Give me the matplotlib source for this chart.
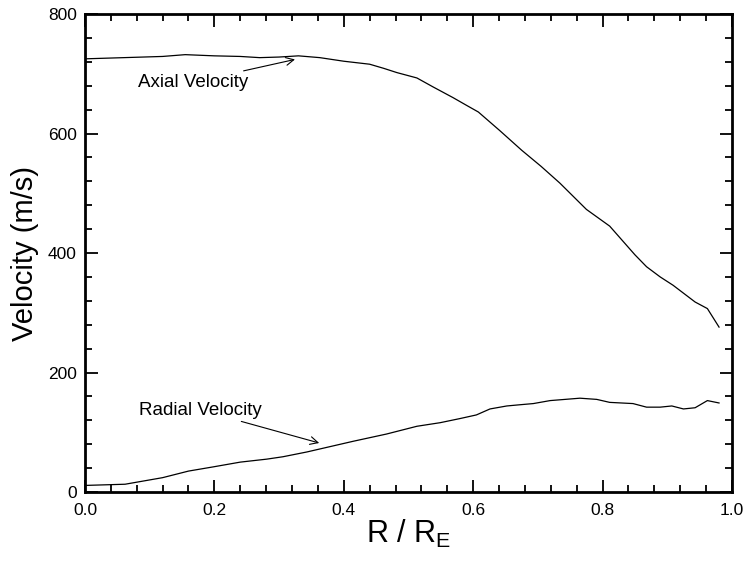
import matplotlib
matplotlib.use('Agg')
import matplotlib.pyplot as plt
from matplotlib.ticker import MultipleLocator

plt.rcParams['font.family'] = ['Liberation Sans', 'DejaVu Sans']

# axial velocity profile
axial_x = [0.0, 0.06, 0.12, 0.155, 0.2, 0.24, 0.27, 0.30, 0.33, 0.363, 0.40, 0.44,
           0.462, 0.482, 0.513, 0.538, 0.569, 0.59, 0.608, 0.641, 0.675, 0.705, 0.734,
           0.775, 0.811, 0.85, 0.868, 0.889, 0.909, 0.943, 0.962, 0.98]
axial_v = [725, 727, 729, 732, 730, 729, 727, 728, 730, 727, 721, 716,
           709, 702, 693, 678, 660, 647, 636, 605, 572, 545, 517,
           473, 445, 397, 377, 360, 346, 318, 307, 276]

# radial velocity profile
radial_x = [0.0, 0.062, 0.12, 0.16, 0.198, 0.24, 0.281, 0.306, 0.343, 0.379, 0.415,
            0.466, 0.513, 0.549, 0.58, 0.605, 0.626, 0.652, 0.672, 0.693, 0.719,
            0.765, 0.791, 0.811, 0.847, 0.868, 0.889, 0.907, 0.925, 0.943, 0.962, 0.98]
radial_v = [11, 13, 24, 35, 42, 50, 55, 59, 67, 76, 85,
            97, 110, 116, 123, 129, 139, 144, 146, 148, 153,
            157, 155, 150, 148, 142, 142, 144, 139, 141, 153, 149]

fig = plt.figure(figsize=(7.46, 5.61), dpi=100)
ax = fig.add_axes([0.1139, 0.123, 0.8673, 0.852])

ax.plot(axial_x, axial_v, color='black', lw=0.9)
ax.plot(radial_x, radial_v, color='black', lw=0.9)

ax.set_xlim(0, 1)
ax.set_ylim(0, 800)
ax.xaxis.set_major_locator(MultipleLocator(0.2))
ax.xaxis.set_minor_locator(MultipleLocator(0.04))
ax.yaxis.set_major_locator(MultipleLocator(200))
ax.yaxis.set_minor_locator(MultipleLocator(40))
ax.xaxis.set_major_formatter(plt.FuncFormatter(lambda v, p: '%.1f' % v))

ax.tick_params(which='both', direction='in', top=True, right=True, width=1.3)
ax.tick_params(which='major', length=9, labelsize=12.5)
ax.tick_params(axis='x', which='major', pad=8)
ax.tick_params(axis='y', which='major', pad=6)
ax.tick_params(which='minor', length=5)
for s in ax.spines.values():
    s.set_linewidth(2)

ax.set_xlabel('R / R$_{\\mathregular{E}}$', fontsize=22, labelpad=0)
ax.set_ylabel('Velocity (m/s)', fontsize=21, labelpad=6)

arrow = dict(arrowstyle='->', color='black', lw=0.8,
             shrinkA=0, shrinkB=0, mutation_scale=14)
ax.annotate('Axial Velocity', xy=(0.3246, 724), xytext=(0.252, 686),
            ha='right', va='center', fontsize=13.5, arrowprops=arrow)
ax.annotate('Radial Velocity', xy=(0.362, 82), xytext=(0.2736, 137),
            ha='right', va='center', fontsize=13.5, arrowprops=arrow)

fig.savefig('out.png', dpi=100)
